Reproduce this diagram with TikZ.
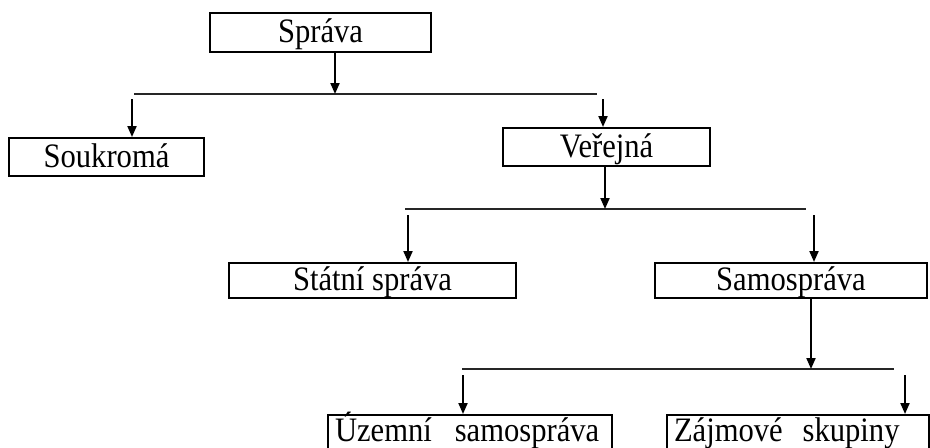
\documentclass[tikz,border=0pt]{standalone}
\usepackage{fontspec}
\usepackage{graphicx}
\setmainfont{Liberation Serif}
\usetikzlibrary{arrows.meta}
\newcommand{\tall}[1]{\scalebox{1}[1.12]{#1}}
\tikzstyle{box}   = [rectangle, draw, line width=1pt, inner sep=0pt, text centered,
                     text height=10pt, text depth=0pt, font=\fontsize{15.3}{18}\selectfont]
\tikzstyle{lowbox} = [box, anchor=north west, align=left, inner xsep=3.5pt, inner ysep=2pt,
                      text height=11pt, text depth=17pt]
\tikzstyle{arrow} = [line width=1pt,-{Triangle[width=4.5pt,length=5.5pt]}]
\tikzstyle{bar}   = [line width=0.7pt, black!85]

\begin{document}
\begin{tikzpicture}[x=0.5pt,y=-0.5pt]
		\useasboundingbox (0,0) rectangle (930,447);

		\node[box,minimum width=110.5pt,minimum height=19.5pt] (sprava) at (320.5,32.5) {\tall{Správa}};
		\node[box,minimum width=97.5pt,minimum height=19pt] (soukroma) at (106.5,157) {\tall{Soukromá}};
		\node[box,minimum width=103.5pt,minimum height=19pt] (verejna) at (606.5,147) {\tall{Veřejná}};
		\node[box,minimum width=143.5pt,minimum height=17.5pt] (statni) at (372.5,280.5) {\tall{Státní správa}};
		\node[box,minimum width=136pt,minimum height=17.5pt] (samosprava) at (791,280.5) {\tall{Samospráva}};
		\node[lowbox,text width=135pt] (uzemni) at (327,414) {\tall{Územní\hspace{0.75em}samospráva}};
		\node[lowbox,text width=124pt] (zajmove) at (666,414) {\tall{Zájmové\hspace{0.65em}skupiny}};

		\coordinate (b1l) at (134,94);  \coordinate (b1r) at (597,94);  \coordinate (a1) at (335,94);
		\coordinate (b2l) at (405,209); \coordinate (b2r) at (806,209); \coordinate (a2) at (605,209);
		\coordinate (b3l) at (462,369); \coordinate (b3r) at (894,369); \coordinate (a3) at (811,369);
		\coordinate (d1) at (132,99);   \coordinate (d2) at (603,99);
		\coordinate (d3) at (408,215);  \coordinate (d4) at (814,215);
		\coordinate (d5) at (463,375);  \coordinate (d6) at (905,375);

		\foreach \l/\r in {b1l/b1r,b2l/b2r,b3l/b3r}
		\draw[bar] (\l) -- (\r);

		\draw[arrow] (a1 |- sprava.south) -- (a1);
		\draw[arrow] (a2 |- verejna.south) -- (a2);
		\draw[arrow] (a3 |- samosprava.south) -- (a3);
		\draw[arrow] (d1) -- (d1 |- soukroma.north);
		\draw[arrow] (d2) -- (d2 |- verejna.north);
		\draw[arrow] (d3) -- (d3 |- statni.north);
		\draw[arrow] (d4) -- (d4 |- samosprava.north);
		\draw[arrow] (d5) -- (d5 |- uzemni.north);
		\draw[arrow] (d6) -- (d6 |- zajmove.north);
	\end{tikzpicture}
\end{document}
